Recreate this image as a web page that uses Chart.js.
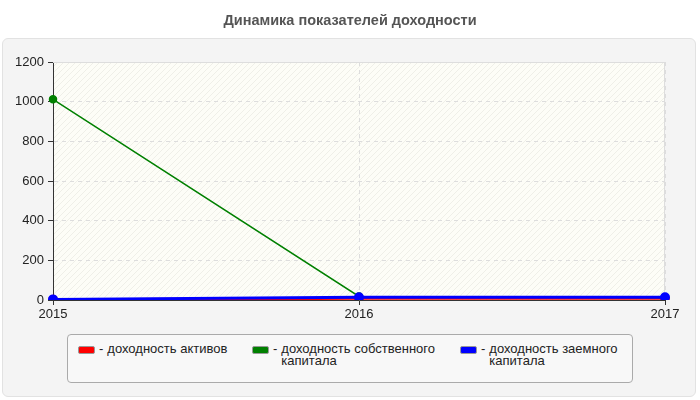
<!DOCTYPE html>
<html>
<head>
<meta charset="utf-8">
<script src="https://cdn.jsdelivr.net/npm/chart.js@4.4.1/dist/chart.umd.min.js"></script>
<style>
  body { margin: 0; background: #fff; font-family: "Liberation Sans", Arial, sans-serif; }
  #wrap { position: relative; width: 700px; height: 400px; }
  #panel { position: absolute; left: 2px; top: 38px; width: 692px; height: 357px;
           background: #f4f4f4; border: 1px solid #e2e2e2; border-radius: 6px; }
  #chart { position: absolute; left: 0; top: 0; }
  #legend { position: absolute; left: 67px; top: 334px; width: 564px; height: 47px;
            background: #f8f8f8; border: 1px solid #aaa; border-radius: 4px; }
  .item { position: absolute; top: 8px; display: flex; font-size: 13px; color: #222; line-height: 12px; }
  .sw { width: 15px; height: 6px; border: 1px solid #999; border-radius: 2px; margin-top: 3px; margin-right: 4px; }
  .dash { margin-right: 4px; }
</style>
</head>
<body>
<div id="wrap">
  <div id="panel"></div>
  <canvas id="chart" width="700" height="400"></canvas>
  <div id="legend"></div>
</div>
<script>
// data
var years = ['2015', '2016', '2017'];
var roa = [2, 7, 7];        // доходность активов
var roe = [1012, 18, 12];   // доходность собственного капитала
var rdc = [3, 14, 14];      // доходность заемного капитала

var names = ['доходность активов', 'доходность собственного капитала', 'доходность заемного капитала'];
var colors = ['#ff0000', '#008000', '#0000ff'];
var legendX = [10, 184, 392];
var legendW = [150, 170, 140];

// hatch for plot background
var pat = document.createElement('canvas');
pat.width = 6; pat.height = 6;
var pc = pat.getContext('2d');
pc.fillStyle = '#fdfdf7';
pc.fillRect(0, 0, 6, 6);
pc.strokeStyle = '#efefe8';
pc.lineWidth = 1;
pc.beginPath();
pc.moveTo(0, 6); pc.lineTo(6, 0);
pc.moveTo(-1, 1); pc.lineTo(1, -1);
pc.moveTo(5, 7); pc.lineTo(7, 5);
pc.stroke();

var plotBg = {
	id: 'plotBg',
	beforeDraw: function(chart) {
		var a = chart.chartArea, c = chart.ctx;
		c.save();
		c.fillStyle = c.createPattern(pat, 'repeat');
		c.fillRect(a.left, a.top, a.right - a.left, a.bottom - a.top);
		c.restore();
	},
	beforeDatasetsDraw: function(chart) {
		var a = chart.chartArea, c = chart.ctx;
		c.save();
		c.strokeStyle = '#dddddd';
		c.lineWidth = 1;
		c.beginPath();
		c.moveTo(a.left, a.top + 0.5);
		c.lineTo(a.right - 0.5, a.top + 0.5);
		c.lineTo(a.right - 0.5, a.bottom);
		c.stroke();
		c.restore();
	}
};

var font = 'Liberation Sans, Arial, sans-serif';

var ctx = document.getElementById('chart');
var myChart = new Chart(ctx, {
	type: 'line',
	data: {
		labels: years,
		datasets: [{
			label: names[0],
			data: roa,
			borderColor: colors[0],
			backgroundColor: colors[0],
			borderWidth: 2.5,
			pointRadius: 3.5,
			order: 2
		}, {
			label: names[1],
			data: roe,
			borderColor: colors[1],
			backgroundColor: colors[1],
			borderWidth: 1.5,
			pointRadius: 3.5,
			order: 1
		}, {
			label: names[2],
			data: rdc,
			borderColor: colors[2],
			backgroundColor: colors[2],
			borderWidth: 3,
			pointRadius: 3.5,
			order: 0
		}]
	},
	plugins: [plotBg],
	options: {
		responsive: false,
		animation: false,
		layout: { padding: { left: 0, right: 0, top: 0, bottom: 75 } },
		plugins: {
			legend: { display: false },
			tooltip: { enabled: false },
			title: {
				display: true,
				text: 'Динамика показателей доходности',
				color: '#555',
				font: { family: font, size: 14.5, weight: 'bold' },
				padding: { top: 12, bottom: 32.6 }
			}
		},
		scales: {
			x: {
				offset: false,
				afterFit: function(s) { s.height = 25; },
				grid: { color: '#dddddd', tickColor: '#333', tickLength: 5 },
				border: { color: '#333', dash: [4, 4] },
				ticks: { color: '#222', padding: 2, font: { family: font, size: 13 } }
			},
			y: {
				min: 0,
				max: 1200,
				afterFit: function(s) { s.width = 53; },
				grid: { color: '#dddddd', tickColor: '#333', tickLength: 5 },
				border: { color: '#333', dash: [4, 4] },
				ticks: {
					stepSize: 200, color: '#222', padding: 4,
					font: { family: font, size: 13 },
					callback: function(v) { return String(v); }
				}
			},
			// empty right axis, only keeps room on the right
			yr: {
				position: 'right',
				min: 0,
				max: 1200,
				afterFit: function(s) { s.width = 35; },
				grid: { display: false },
				border: { display: false },
				ticks: { display: false }
			}
		}
	}
});

// html legend
var lg = document.getElementById('legend');
myChart.data.datasets.forEach(function(ds, i) {
	var it = document.createElement('div');
	it.className = 'item';
	it.style.left = legendX[i] + 'px';
	it.innerHTML = '<div class="sw" style="background:' + ds.borderColor + '"></div>' +
		'<span class="dash">-</span><span style="width:' + legendW[i] + 'px">' + ds.label + '</span>';
	lg.appendChild(it);
});
</script>
</body>
</html>
